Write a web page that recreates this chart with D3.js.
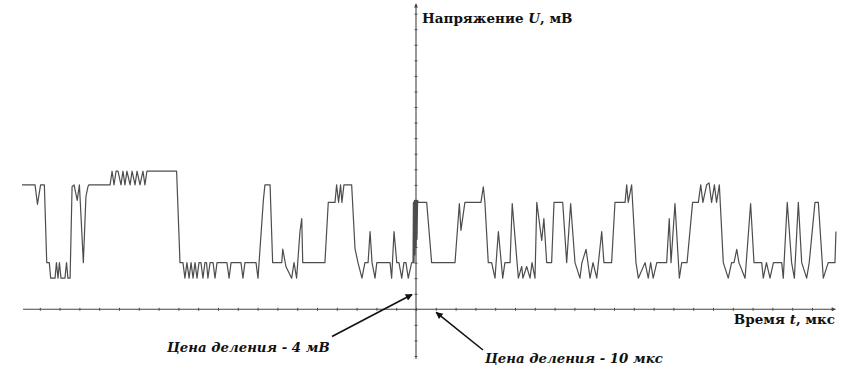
<!DOCTYPE html>
<html>
<head>
<meta charset="utf-8">
<script src="https://cdn.jsdelivr.net/npm/d3@7/dist/d3.min.js"></script>
<style>
  body { margin: 0; background: #fff; }
  svg { display: block; }
  .lbl { font-family: "DejaVu Serif", serif; font-size: 13.5px; font-weight: bold; fill: #111; }
  .note { font-family: "DejaVu Serif", serif; font-size: 13.3px; font-style: italic; font-weight: bold; fill: #111; }
</style>
</head>
<body>
<svg id="chart" width="846" height="381"></svg>
<script>
// Signal: [time, µs ; voltage, mV]
var signal = [
  [-199.0, 32], [-192.4, 32], [-191.2, 27], [-189.6, 32], [-187.7, 32], [-186.5, 12], [-185.2, 12],
  [-184.5, 8], [-182.3, 8], [-181.6, 12], [-180.8, 8], [-180.1, 12], [-179.3, 8], [-177.3, 8],
  [-176.5, 12], [-175.8, 8], [-174.7, 8], [-173.7, 31.5], [-172.7, 32], [-171.1, 28], [-170.0, 32],
  [-168.0, 12], [-166.7, 29], [-165.7, 31.5], [-165.2, 32], [-154.5, 32],
  [-153.5, 35.5], [-152.5, 32], [-151.5, 35.5], [-150.5, 35.5], [-149.0, 32], [-148.0, 35.5],
  [-147.0, 32], [-146.0, 35.5], [-144.4, 32], [-143.4, 35.5], [-141.9, 32], [-140.9, 35.5],
  [-139.4, 32], [-137.9, 35.5], [-136.9, 32], [-135.9, 35.5], [-120.9, 35.5], [-119.2, 12],
  [-117.7, 12], [-116.7, 8], [-115.7, 12], [-114.6, 8], [-113.6, 12], [-112.6, 8], [-111.6, 12],
  [-110.6, 8], [-109.6, 12], [-108.6, 12], [-107.6, 8], [-106.6, 12], [-105.8, 12], [-105.1, 8],
  [-104.0, 12], [-102.5, 12], [-101.5, 8], [-100.5, 12], [-95.5, 12], [-94.4, 8], [-93.4, 12],
  [-88.4, 12], [-87.4, 8], [-86.4, 12], [-80.8, 12], [-79.8, 8], [-77.1, 28], [-76.3, 32],
  [-73.7, 32], [-72.4, 12], [-67.8, 12], [-67.3, 15.5], [-65.7, 11], [-62.8, 8], [-61.6, 12],
  [-60.3, 8], [-58.6, 20], [-57.7, 23.3], [-57.2, 12], [-46.0, 12], [-44.3, 27.5], [-40.9, 27.5],
  [-40.1, 32], [-39.1, 27.5], [-38.1, 32], [-37.4, 27.5], [-36.4, 32], [-32.5, 32], [-30.8, 15.6],
  [-29.3, 12], [-27.3, 8], [-25.8, 12], [-24.2, 12], [-23.2, 20], [-22.2, 12], [-20.7, 8],
  [-19.8, 12], [-13.1, 12], [-12.3, 8], [-11.1, 20], [-9.7, 12], [-8.6, 12], [-7.2, 8], [-6.1, 12],
  [-5.1, 12], [-3.9, 8], [-2.2, 12], [-1.5, 12], [-1.3, 27.5], [-1.0, 12], [-0.8, 28], [-0.5, 14],
  [-0.3, 28], [0, 16], [0.3, 28], [0.5, 18], [0.8, 28], [1.2, 27.5],
  [5.4, 27.5], [7.9, 12], [19.7, 12], [21.9, 27.2], [22.7, 20.3], [24.7, 27.5], [32.8, 27.5],
  [34.0, 31.5], [34.8, 27.5], [36.5, 12], [38.2, 12], [39.9, 8], [41.6, 20], [43.8, 8], [44.9, 12],
  [47.5, 12], [48.6, 27.2], [51.7, 8], [53.4, 11], [54.0, 8], [55.9, 11], [57.6, 8], [58.6, 12],
  [60.1, 8], [61.0, 27.5], [63.5, 17.7], [64.6, 23.3], [66.0, 12], [68.5, 12], [69.7, 27.5],
  [74.1, 27.5], [76.1, 12], [78.1, 27.2], [80.3, 12], [82.8, 8], [83.8, 12], [85.9, 15.4],
  [87.9, 8], [89.4, 12], [91.3, 8], [93.8, 20], [94.9, 12], [98.8, 12], [100.5, 27.5],
  [105.6, 27.5], [106.4, 32], [107.2, 27.5], [108.9, 32], [111.1, 12], [112.3, 8], [115.7, 12],
  [117.3, 8], [118.5, 12], [119.8, 8], [121.6, 12], [126.6, 12], [127.9, 23.3], [128.8, 12],
  [130.8, 27.2], [133.0, 8], [134.2, 12], [136.9, 12], [139.7, 27.5], [142.6, 27.5], [143.8, 32],
  [144.9, 27.5], [146.8, 32], [148.0, 32.5], [149.3, 27.5], [150.7, 32], [151.8, 27.5], [153.2, 32],
  [155.2, 12], [157.7, 8], [159.4, 12], [160.6, 12], [162.0, 15.4], [163.1, 12], [166.2, 8],
  [169.0, 27.2], [170.7, 12], [174.6, 12], [175.4, 8], [177.0, 12], [178.8, 8], [180.5, 12],
  [184.7, 12], [185.5, 8], [187.5, 27.5], [189.7, 12], [191.1, 8], [193.1, 27.5], [194.8, 12],
  [197.3, 8], [198.6, 12], [201.5, 27.5], [203.2, 27.5], [205.7, 8], [208.2, 12], [211.6, 12],
  [212.1, 20]
];

// axis divisions: 10 µs and 4 mV
var timeTicks = d3.range(-190, 211, 10);
var voltTicks = d3.range(-12, 77, 4);

var yLabel = ["Напряжение ", "U", ", мВ"];
var xLabel = ["Время ", "t", ", мкс"];
var noteVolt = "Цена деления - 4 мВ";
var noteTime = "Цена деления - 10 мкс";

var svg = d3.select("#chart");

var x = d3.scaleLinear().domain([-200, 210]).range([20, 831.8]);
var y = d3.scaleLinear().domain([0, 76]).range([309.3, 13.7]);

var defs = svg.append("defs");
defs.append("marker")
    .attr("id", "head")
    .attr("viewBox", "0 0 10 10")
    .attr("refX", 9).attr("refY", 5)
    .attr("markerWidth", 11).attr("markerHeight", 7)
    .attr("markerUnits", "userSpaceOnUse")
    .attr("orient", "auto")
  .append("path")
    .attr("d", "M0,0 L10,5 L0,10 Z")
    .attr("fill", "#111");
defs.append("marker")
    .attr("id", "axhead")
    .attr("viewBox", "0 0 10 10")
    .attr("refX", 9).attr("refY", 5)
    .attr("markerWidth", 5).attr("markerHeight", 4)
    .attr("markerUnits", "userSpaceOnUse")
    .attr("orient", "auto")
  .append("path")
    .attr("d", "M0,0 L10,5 L0,10 Z")
    .attr("fill", "#444");

// time axis
var xAxis = svg.append("g")
    .attr("transform", "translate(0," + y(0) + ")")
    .call(d3.axisBottom(x).tickValues(timeTicks).tickSize(3).tickFormat(""));
xAxis.select(".domain").remove();
xAxis.selectAll(".tick line").attr("y1", -1.5).attr("y2", 1.5).attr("stroke", "#555");
svg.append("line")
    .attr("x1", x(-198.5)).attr("x2", x(211.8))
    .attr("y1", y(0)).attr("y2", y(0))
    .attr("stroke", "#444").attr("stroke-width", 1.1)
    .attr("marker-end", "url(#axhead)");

// voltage axis
var yAxis = svg.append("g")
    .attr("transform", "translate(" + x(0) + ",0)")
    .call(d3.axisLeft(y).tickValues(voltTicks).tickSize(3).tickFormat(""));
yAxis.select(".domain").remove();
yAxis.selectAll(".tick line").attr("x1", -1.5).attr("x2", 1.5).attr("stroke", "#555");
svg.append("line")
    .attr("x1", x(0)).attr("x2", x(0))
    .attr("y1", y(-12.8)).attr("y2", y(78.5))
    .attr("stroke", "#444").attr("stroke-width", 1.1)
    .attr("marker-end", "url(#axhead)");

// signal trace
var line = d3.line()
    .x(function (d) { return x(d[0]); })
    .y(function (d) { return y(d[1]); });

svg.append("path")
    .datum(signal)
    .attr("d", line)
    .attr("fill", "none")
    .attr("stroke", "#4d4d4d")
    .attr("stroke-width", 1.2)
    .attr("stroke-linejoin", "round");

// axis titles
var ty = svg.append("text").attr("class", "lbl")
    .attr("x", x(0) + 6).attr("y", 23);
ty.selectAll("tspan").data(yLabel).enter().append("tspan")
    .style("font-style", function (d, i) { return i == 1 ? "italic" : null; })
    .text(function (d) { return d; });

var tx = svg.append("text").attr("class", "lbl")
    .attr("x", 835).attr("y", 323.5).attr("text-anchor", "end");
tx.selectAll("tspan").data(xLabel).enter().append("tspan")
    .style("font-style", function (d, i) { return i == 1 ? "italic" : null; })
    .text(function (d) { return d; });

// division notes with arrows
svg.append("text").attr("class", "note")
    .attr("x", 167).attr("y", 352).text(noteVolt);
svg.append("line")
    .attr("x1", 332).attr("y1", 336.5)
    .attr("x2", x(-2)).attr("y2", y(3.8))
    .attr("stroke", "#111").attr("stroke-width", 1.6)
    .attr("marker-end", "url(#head)");

svg.append("text").attr("class", "note")
    .attr("x", 485).attr("y", 363).text(noteTime);
svg.append("line")
    .attr("x1", 483).attr("y1", 350)
    .attr("x2", x(10.2)).attr("y2", y(-0.8))
    .attr("stroke", "#111").attr("stroke-width", 1.6)
    .attr("marker-end", "url(#head)");
</script>
</body>
</html>
